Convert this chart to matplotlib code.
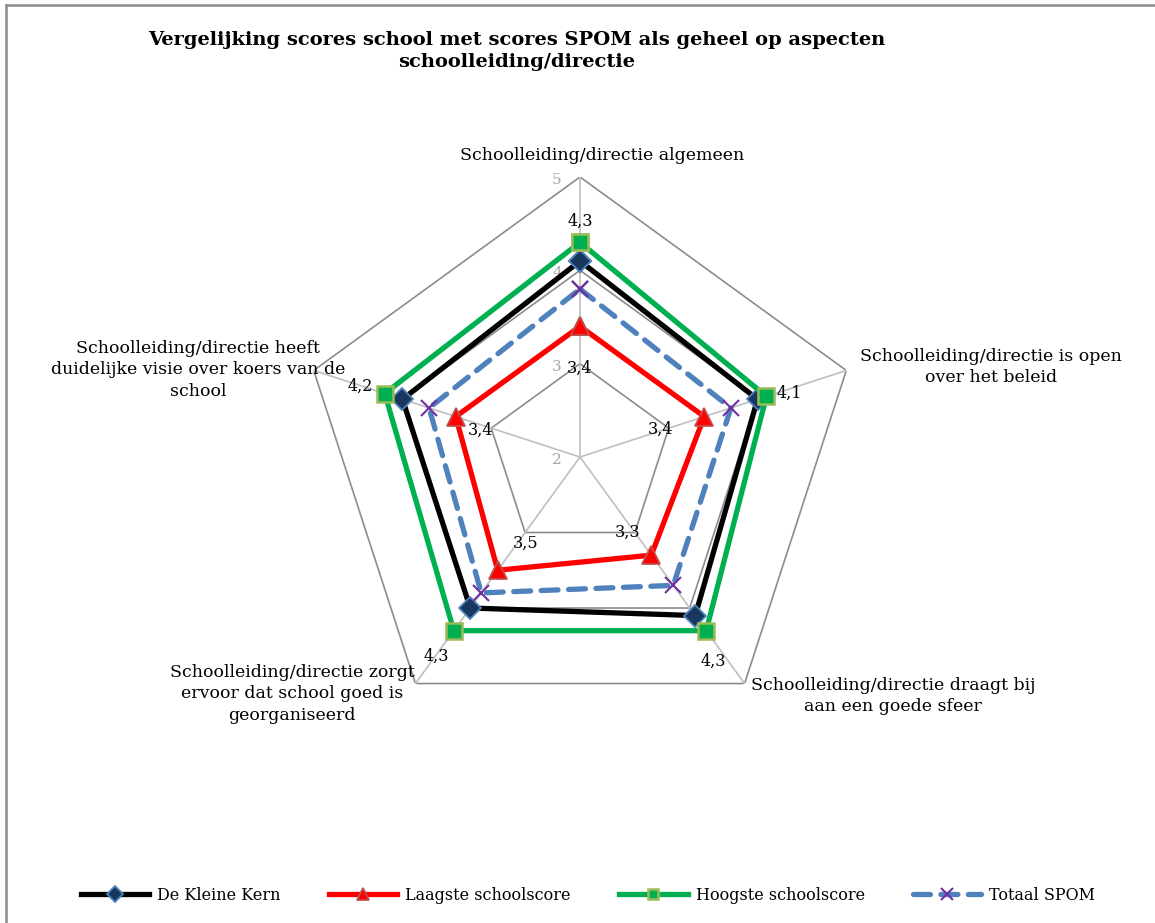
import numpy as np
import matplotlib
matplotlib.use('Agg')
import matplotlib.pyplot as plt
from matplotlib.lines import Line2D

# === Data ===
categories = [
    'Schoolleiding/directie algemeen',
    'Schoolleiding/directie is open\nover het beleid',
    'Schoolleiding/directie draagt bij\naan een goede sfeer',
    'Schoolleiding/directie zorgt\nervoor dat school goed is\ngeorganiseerd',
    'Schoolleiding/directie heeft\nduidelijke visie over koers van de\nschool',
]
kern = [4.1, 4.0, 4.1, 4.0, 4.0]
laagste = [3.4, 3.4, 3.3, 3.5, 3.4]
hoogste = [4.3, 4.1, 4.3, 4.3, 4.2]
spom = [3.8, 3.7, 3.7, 3.8, 3.7]
rings = [2, 3, 4, 5]

title = 'Vergelijking scores school met scores SPOM als geheel op aspecten\nschoolleiding/directie'

# === Layout (pixels) ===
W, H = 1155, 923
cx, cy, R = 580, 457, 280
plt.rcParams['font.family'] = 'DejaVu Serif'

def px(x, y):
    return x / W, 1 - y / H

fig = plt.figure(figsize=(W / 100, H / 100), dpi=100)
ax = fig.add_axes([(cx - R) / W, (H - cy - R) / H, 2 * R / W, 2 * R / H], projection='polar')
ax.set_theta_zero_location('N')
ax.set_theta_direction(-1)
ax.set_ylim(rings[0], rings[-1])
ax.axis('off')

angles = np.linspace(0, 2 * np.pi, len(categories), endpoint=False)
th = np.append(angles, angles[0])
close = lambda v: np.append(v, v[0])

# grid: pentagons + spokes
for r in rings[1:]:
    ax.plot(th, [r] * len(th), color='#8C8C8C', lw=1.2, zorder=1)
for a in angles:
    ax.plot([a, a], [rings[0], rings[-1]], color='#BFBFBF', lw=1.2, zorder=1)
for r in rings:
    ax.annotate(str(r), xy=(0, r), xytext=(-23, -3), textcoords='offset pixels',
                ha='center', va='center', color='#A6A6A6', fontsize=11)

# series
styles = [
    ('De Kleine Kern', kern, dict(color='black', marker='D', mfc='#17375E', mec='#4F81BD', ms=11, mew=1.3)),
    ('Laagste schoolscore', laagste, dict(color='#FF0000', marker='^', mfc='#FF0000', mec='#C0504D', ms=13, mew=1.3)),
    ('Hoogste schoolscore', hoogste, dict(color='#00B050', marker='s', mfc='#00B050', mec='#9BBB59', ms=11, mew=1.8)),
    ('Totaal SPOM', spom, dict(color='#4F81BD', marker='x', mec='#7030A0', ms=12, mew=1.5,
                               ls=(0, (3.2, 2.0)), dash_capstyle='round')),
]
handles = []
for i, (name, vals, kw) in enumerate(styles):
    ln, = ax.plot(th, close(vals), lw=3.8, label=name, zorder=3 + i, clip_on=False, **kw)
    handles.append(ln)

# data labels
green_off = [(0, 21), (23, 3), (7, -31), (-18, -26), (-24, 7)]
red_off = [(0, -42), (-44, -13), (-24, 23), (28, 27), (25, -14)]
for vals, offs in [(hoogste, green_off), (laagste, red_off)]:
    for a, v, o in zip(angles, vals, offs):
        ax.annotate(f'{v:.1f}'.replace('.', ','), xy=(a, v), xytext=o, textcoords='offset pixels',
                    ha='center', va='center', fontsize=11.5, zorder=10)

# category labels
cat_pos = [(602, 155), (991, 367), (893, 696), (292, 694), (198, 370)]
for lab, (x, y) in zip(categories, cat_pos):
    fig.text(*px(x, y), lab, ha='center', va='center', fontsize=12.5, linespacing=1.32)

fig.text(*px(517, 51), title, ha='center', va='center', fontsize=14, fontweight='bold', linespacing=1.25)

fig.legend(handles=handles, loc='center', bbox_to_anchor=px(588, 895), ncol=4, frameon=False,
           fontsize=11.5, handlelength=4.3, columnspacing=3.0, handletextpad=0.5, markerscale=0.7)

# chart border
fig.add_artist(Line2D([6 / W, 6 / W], [0, 1 - 5 / H], color='#8C8C8C', lw=1.8))
fig.add_artist(Line2D([6 / W, 1], [1 - 5 / H, 1 - 5 / H], color='#8C8C8C', lw=1.8))

fig.savefig('out.png', dpi=100)
